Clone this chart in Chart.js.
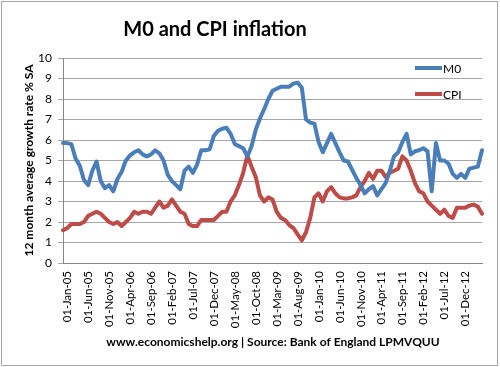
<!DOCTYPE html>
<html>
<head>
<meta charset="utf-8">
<script src="https://cdn.jsdelivr.net/npm/chart.js"></script>
<style>
  html, body { margin: 0; padding: 0; background: #fff; }
</style>
</head>
<body>
<canvas id="chart" width="500" height="367"></canvas>
<script>
const titleText = 'M0 and CPI inflation'
const footerText = 'www.economicshelp.org | Source: Bank of England LPMVQUU'
const yTitle = '12 month average growth rate % SA'

// monthly, 01-Jan-05 .. 01-May-13
const monthNames = ['Jan', 'Feb', 'Mar', 'Apr', 'May', 'Jun', 'Jul', 'Aug', 'Sep', 'Oct', 'Nov', 'Dec']
const dates = []
for (let i = 0; i < 101; i++) {
    const yy = String(5 + Math.floor(i / 12)).padStart(2, '0')
    dates.push('01-' + monthNames[i % 12] + '-' + yy)
}
// labelled every 5 months, 01-Jan-05 .. 01-Dec-12
const tickEvery = 5
const tickCount = 20

const m0 = [
    5.85, 5.85, 5.8, 5.1, 4.75, 4.05, 3.8, 4.5, 4.95, 4.0,
    3.65, 3.8, 3.5, 4.1, 4.45, 5.0, 5.25, 5.4, 5.5, 5.3,
    5.2, 5.3, 5.5, 5.35, 5.0, 4.3, 4.0, 3.8, 3.6, 4.5,
    4.7, 4.4, 4.8, 5.5, 5.5, 5.55, 6.2, 6.45, 6.55, 6.6,
    6.3, 5.8, 5.7, 5.6, 5.2, 5.7, 6.5, 7.05, 7.5, 8.0,
    8.4, 8.5, 8.6, 8.6, 8.6, 8.75, 8.8, 8.55, 7.0, 6.85,
    6.8, 5.9, 5.4, 5.85, 6.3, 5.85, 5.4, 5.0, 4.95, 4.55,
    4.15, 3.8, 3.4, 3.6, 3.75, 3.3, 3.6, 3.9, 4.5, 5.2,
    5.4, 5.9, 6.3, 5.3, 5.45, 5.5, 5.6, 5.45, 3.5, 5.85,
    5.0, 5.0, 4.85, 4.35, 4.15, 4.35, 4.15, 4.6, 4.65, 4.7,
    5.5
]

const cpi = [
    1.6, 1.7, 1.9, 1.9, 1.9, 2.0, 2.3, 2.4, 2.5, 2.4,
    2.2, 2.0, 1.9, 2.0, 1.8, 2.0, 2.2, 2.5, 2.4, 2.5,
    2.5, 2.4, 2.7, 3.0, 2.7, 2.8, 3.1, 2.8, 2.5, 2.4,
    1.9, 1.8, 1.8, 2.1, 2.1, 2.1, 2.1, 2.3, 2.5, 2.5,
    3.0, 3.3, 3.8, 4.4, 5.25, 4.7, 4.2, 3.3, 3.0, 3.2,
    3.1, 2.5, 2.2, 2.1, 1.85, 1.7, 1.4, 1.1, 1.5, 2.2,
    3.2, 3.4, 3.0, 3.5, 3.7, 3.4, 3.2, 3.15, 3.15, 3.2,
    3.3, 3.7, 4.0, 4.4, 4.1, 4.5, 4.5, 4.2, 4.4, 4.5,
    4.6, 5.2, 5.0, 4.5, 3.9, 3.5, 3.4, 3.0, 2.8, 2.6,
    2.4, 2.6, 2.3, 2.2, 2.7, 2.7, 2.7, 2.8, 2.85, 2.75,
    2.4
]

Chart.defaults.font.family = 'Lato, "Open Sans", sans-serif'
Chart.defaults.color = '#000'

const decor = {
    id: 'decor',
    afterDraw(chart) {
        const ctx = chart.ctx
        ctx.save()
        ctx.strokeStyle = '#a6a6a6'
        ctx.lineWidth = 1
        ctx.strokeRect(1.5, 1.5, 496, 364)

        ctx.fillStyle = '#000'
        ctx.textAlign = 'center'
        ctx.textBaseline = 'middle'
        ctx.font = 'bold 20px Lato'
        ctx.fillText(titleText, 215, 30)
        ctx.font = 'bold 12px Lato'
        ctx.fillText(footerText, 273, 342)

        // legend inside the plot, top right
        chart.data.datasets.forEach((ds, i) => {
            const y = 68 + i * 26
            ctx.strokeStyle = ds.borderColor
            ctx.lineWidth = 4
            ctx.beginPath()
            ctx.moveTo(415, y)
            ctx.lineTo(442, y)
            ctx.stroke()
            ctx.textAlign = 'left'
            ctx.font = '12px Lato'
            ctx.fillText(ds.label, 443, y + 1)
        })
        ctx.restore()
    }
}

const data = {
    labels: dates,
    datasets: [{
        label: 'M0',
        data: m0,
        borderColor: '#4a7ebb',
        borderWidth: 4,
        pointRadius: 0,
        borderJoinStyle: 'round',
        borderCapStyle: 'round'
    },
    {
        label: 'CPI',
        data: cpi,
        borderColor: '#be4b48',
        borderWidth: 4,
        pointRadius: 0,
        borderJoinStyle: 'round',
        borderCapStyle: 'round'
    }]
}

let options = {
    responsive: false,
    animation: false,
    layout: {
        padding: { top: 58, right: 18, left: 0, bottom: 0 }
    },
    plugins: {
        legend: { display: false },
        tooltip: { enabled: false }
    },
    scales: {
        x: {
            offset: false,
            grid: { display: false, drawTicks: false },
            border: { color: '#888', width: 1 },
            ticks: {
                autoSkip: false,
                minRotation: 90,
                maxRotation: 90,
                padding: 8,
                labelOffset: 4.5,
                font: { size: 11.5 },
                callback: function (v, i) {
                    if (i % tickEvery !== 0 || i / tickEvery >= tickCount) return null
                    return this.getLabelForValue(v)
                }
            },
            afterFit: s => { s.height = 104 }
        },
        y: {
            min: 0,
            max: 10,
            grid: { color: '#a6a6a6', tickLength: 5 },
            border: { color: '#888', width: 1 },
            ticks: { stepSize: 1, padding: 6, font: { size: 12 } },
            title: {
                display: true,
                text: yTitle,
                font: { size: 12, weight: 'bold' },
                padding: { top: 22, bottom: 0 }
            },
            afterFit: s => { s.width = 63 }
        }
    }
}

new Chart('chart', { type: 'line', data, options, plugins: [decor] })
</script>
</body>
</html>
